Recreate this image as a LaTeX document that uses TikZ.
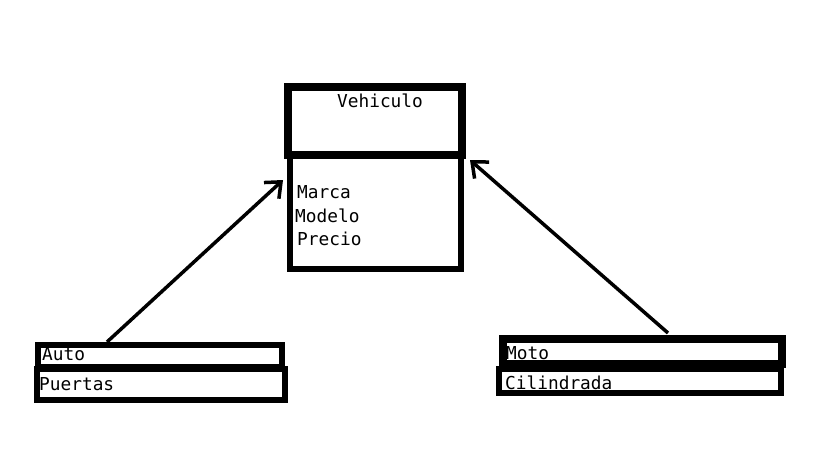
\documentclass[tikz,border=0pt]{standalone}
\usepackage{fontspec}
\setmonofont{DejaVu Sans Mono}
\usetikzlibrary{arrows.meta}
\begin{document}
\begin{tikzpicture}[x=1pt,y=-1pt,
  thickbox/.style={draw=black,line width=8pt},
  midbox/.style={draw=black,line width=5.5pt},
  lbl/.style={anchor=west,inner sep=0pt,font=\ttfamily\fontsize{17.8}{20}\selectfont},
  inherit/.style={line width=3.5pt,-{Straight Barb[length=13pt,width=22pt,line width=3.5pt]}}]
\useasboundingbox[fill=white] (0,0) rectangle (819,460);
% Vehiculo
\draw[thickbox] (288,87) rectangle (462,155);
\draw[midbox] (290,155) rectangle (461,269);
\node[lbl,anchor=center] (veh) at (380,101) {Vehiculo};
\node[lbl] (marca) at (297,192) {Marca};
\node[lbl] (modelo) at (295,216) {Modelo};
\node[lbl] (precio) at (297,239) {Precio};
\coordinate (vehL) at (283,180);
\coordinate (vehR) at (470,160);
% Auto
\draw[midbox] (38,345) rectangle (282,367);
\draw[midbox] (37,369) rectangle (285,400);
\node[lbl] (auto) at (42,354) {Auto};
\node[lbl] (puertas) at (39,384) {Puertas};
\coordinate (autoT) at (107,342);
% Moto
\draw[thickbox] (503,339) rectangle (782,364);
\draw[midbox] (499,369) rectangle (781,393);
\node[lbl] (moto) at (506,353) {Moto};
\node[lbl] (cil) at (505,383) {Cilindrada};
\coordinate (motoT) at (668,333);
% arrows
\draw[inherit] (autoT) -- (vehL);
\draw[inherit] (motoT) -- (vehR);
\end{tikzpicture}
\end{document}
